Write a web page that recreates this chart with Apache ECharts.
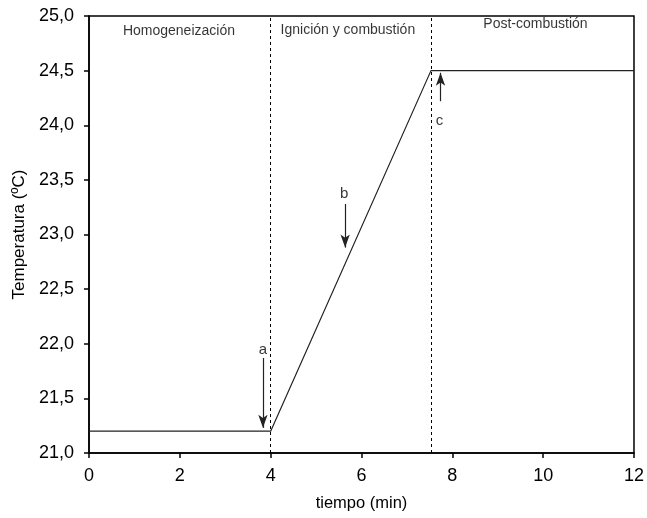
<!DOCTYPE html>
<html>
<head>
<meta charset="utf-8">
<script src="https://cdn.jsdelivr.net/npm/echarts@6/dist/echarts.min.js"></script>
<style>html,body{margin:0;padding:0;background:#fff}#c{width:647px;height:518px}</style>
</head>
<body>
<div id="c"></div>
<script>
// Temperature curve
var curveX = [0, 4, 7.53, 12];
var curveY = [21.2, 21.2, 24.5, 24.5];
// Phase boundaries (dashed)
var boundaries = [4, 7.53];
// Phase labels
var phaseNames = ['Homogeneización', 'Ignición y combustión', 'Post-combustión'];
var phaseX = [1.98, 5.7, 9.83];
var phaseY = [24.862, 24.87, 24.925];
// Arrows: x, y start, y end, label, label y
var arrowNames = ['a', 'b', 'c'];
var arrowX = [3.83, 5.64, 7.74];
var arrowFrom = [21.87, 23.28, 24.22];
var arrowTo = [21.23, 22.88, 24.48];
var arrowLabelX = [3.83, 5.62, 7.72];
var arrowLabelY = [21.94, 23.37, 24.04];
// Axis ticks
var xMin = 0, xMax = 12, xStep = 2;
var yMin = 21, yMax = 25, yStep = 0.5;

var font = 'Liberation Sans, Arial, sans-serif';
var chart = echarts.init(document.getElementById('c'));

var curve = curveX.map(function (x, i) { return [x, curveY[i]]; });
var arrowLines = arrowX.map(function (x, i) {
  return [{ coord: [x, arrowFrom[i]] }, { coord: [x, arrowTo[i]] }];
});
var boundaryLines = boundaries.map(function (x) { return { xAxis: x }; });

var series = [
  {
    type: 'line', data: curve, symbol: 'none', silent: true,
    lineStyle: { color: '#222', width: 1.2 },
    markLine: {
      silent: true, symbol: ['none', 'none'], label: { show: false },
      lineStyle: { color: '#000', type: [3, 3], width: 1 },
      data: boundaryLines
    },
    z: 3
  },
  {
    type: 'line', data: [], silent: true,
    markLine: {
      silent: true, symbol: ['none', 'arrow'], symbolSize: [7, 13],
      label: { show: false },
      lineStyle: { color: '#222', type: 'solid', width: 1.2 },
      data: arrowLines
    }
  },
  {
    type: 'scatter', symbolSize: 0, silent: true,
    data: phaseX.map(function (x, i) { return { value: [x, phaseY[i]], name: phaseNames[i] }; }),
    label: { show: true, position: 'inside', formatter: '{b}', color: '#000', fontSize: 14, fontFamily: font }
  },
  {
    type: 'scatter', symbolSize: 0, silent: true,
    data: arrowLabelX.map(function (x, i) { return { value: [x, arrowLabelY[i]], name: arrowNames[i] }; }),
    label: { show: true, position: 'inside', formatter: '{b}', color: '#000', fontSize: 15, fontFamily: font }
  }
];

chart.setOption({
  animation: false,
  backgroundColor: '#fff',
  grid: { left: 89, right: 11, top: 16, bottom: 65, show: true, borderColor: '#000', borderWidth: 1.5 },
  xAxis: {
    type: 'value', min: xMin, max: xMax, interval: xStep,
    name: 'tiempo (min)', nameLocation: 'middle', nameGap: 42,
    nameTextStyle: { fontFamily: font, fontSize: 16.5, color: '#000' },
    axisLine: { lineStyle: { color: '#000', width: 1.5 } },
    axisTick: { inside: false, length: 5, lineStyle: { color: '#000', width: 1.5 } },
    axisLabel: { fontFamily: font, fontSize: 18, color: '#000', margin: 14 },
    splitLine: { show: false }
  },
  yAxis: {
    type: 'value', min: yMin, max: yMax, interval: yStep,
    name: 'Temperatura (ºC)', nameLocation: 'middle', nameGap: 61,
    nameTextStyle: { fontFamily: font, fontSize: 17, color: '#000' },
    axisLine: { lineStyle: { color: '#000', width: 1.5 } },
    axisTick: { inside: false, length: 5, lineStyle: { color: '#000', width: 1.5 } },
    axisLabel: { fontFamily: font, fontSize: 18, color: '#000', margin: 15,
      formatter: function (v) { return v.toFixed(1).replace('.', ','); } },
    splitLine: { show: false }
  },
  series: series
});
</script>
</body>
</html>
